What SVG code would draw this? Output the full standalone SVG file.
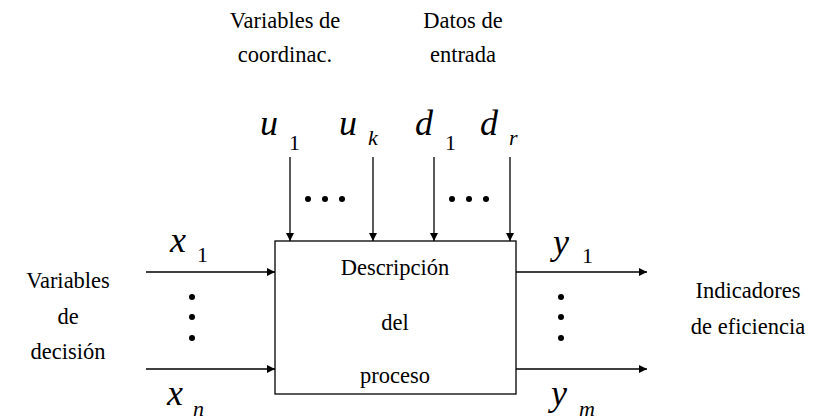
<svg xmlns="http://www.w3.org/2000/svg" width="827" height="420" viewBox="0 0 827 420" font-family="Liberation Serif, Tinos, DejaVu Serif, Times New Roman, serif">
  <style>
    .lbl { font-size: 22.5px; }
    .var { font-size: 36px; font-style: italic; }
    .sub { font-size: 22px; }
    .subi { font-size: 22px; font-style: italic; }
    .wire { stroke: #000; stroke-width: 1.3; fill: none; marker-end: url(#arrow); }
  </style>
  <defs>
    <marker id="arrow" viewBox="0 0 10 10" refX="10" refY="5" markerWidth="10" markerHeight="8" markerUnits="userSpaceOnUse" orient="auto">
      <path d="M0,0 L10,5 L0,10 z" fill="#000"/>
    </marker>
  </defs>

  <!-- headings above the inputs -->
  <g id="coord-label">
    <text class="lbl" x="285" y="28" text-anchor="middle">Variables de</text>
    <text class="lbl" x="285" y="62" text-anchor="middle">coordinac.</text>
  </g>
  <g id="input-label">
    <text class="lbl" x="463" y="28" text-anchor="middle">Datos de</text>
    <text class="lbl" x="463" y="62" text-anchor="middle">entrada</text>
  </g>

  <!-- top input symbols -->
  <g id="u1"><text class="var" x="260" y="135">u</text><text class="sub" x="289" y="150">1</text></g>
  <g id="uk"><text class="var" x="339" y="135">u</text><text class="subi" x="368" y="145">k</text></g>
  <g id="d1"><text class="var" x="415" y="135">d</text><text class="sub" x="445" y="150">1</text></g>
  <g id="dr"><text class="var" x="480" y="135">d</text><text class="subi" x="509" y="145">r</text></g>

  <!-- process block -->
  <g id="process">
    <rect x="275" y="241" width="241" height="153" fill="#fff" stroke="#000" stroke-width="1.3"/>
    <text class="lbl" x="395" y="275" text-anchor="middle">Descripción</text>
    <text class="lbl" x="395" y="330" text-anchor="middle">del</text>
    <text class="lbl" x="395" y="383" text-anchor="middle">proceso</text>
  </g>

  <!-- left side -->
  <g id="decision-label">
    <text class="lbl" x="68" y="288" text-anchor="middle">Variables</text>
    <text class="lbl" x="68" y="324" text-anchor="middle">de</text>
    <text class="lbl" x="68" y="359" text-anchor="middle">decisión</text>
  </g>
  <g id="x1"><text class="var" x="170" y="252">x</text><text class="sub" x="197" y="262">1</text></g>
  <g id="xn"><text class="var" x="167" y="405">x</text><text class="subi" x="193" y="416">n</text></g>

  <!-- right side -->
  <g id="efficiency-label">
    <text class="lbl" x="748" y="298" text-anchor="middle">Indicadores</text>
    <text class="lbl" x="748" y="334" text-anchor="middle">de eficiencia</text>
  </g>
  <g id="y1"><text class="var" x="553" y="254">y</text><text class="sub" x="582" y="263">1</text></g>
  <g id="ym"><text class="var" x="551" y="405">y</text><text class="subi" x="579" y="416">m</text></g>

  <!-- connectors -->
  <g id="connectors">
    <line class="wire" x1="290" y1="157" x2="290" y2="241"/>
    <line class="wire" x1="373" y1="157" x2="373" y2="241"/>
    <line class="wire" x1="434" y1="157" x2="434" y2="241"/>
    <line class="wire" x1="510" y1="157" x2="510" y2="241"/>
    <line class="wire" x1="146" y1="272" x2="275" y2="272"/>
    <line class="wire" x1="146" y1="369" x2="275" y2="369"/>
    <line class="wire" x1="516" y1="272" x2="647" y2="272"/>
    <line class="wire" x1="516" y1="369" x2="647" y2="369"/>
  </g>

  <!-- ellipsis dots -->
  <g id="dots" fill="#000">
    <circle cx="308" cy="199" r="3"/><circle cx="325" cy="199" r="3"/><circle cx="342" cy="199" r="3"/>
    <circle cx="452" cy="199" r="3"/><circle cx="469" cy="199" r="3"/><circle cx="486" cy="199" r="3"/>
    <circle cx="192" cy="297" r="3"/><circle cx="192" cy="317" r="3"/><circle cx="192" cy="338" r="3"/>
    <circle cx="561" cy="297" r="3"/><circle cx="561" cy="317" r="3"/><circle cx="561" cy="338" r="3"/>
  </g>
</svg>
